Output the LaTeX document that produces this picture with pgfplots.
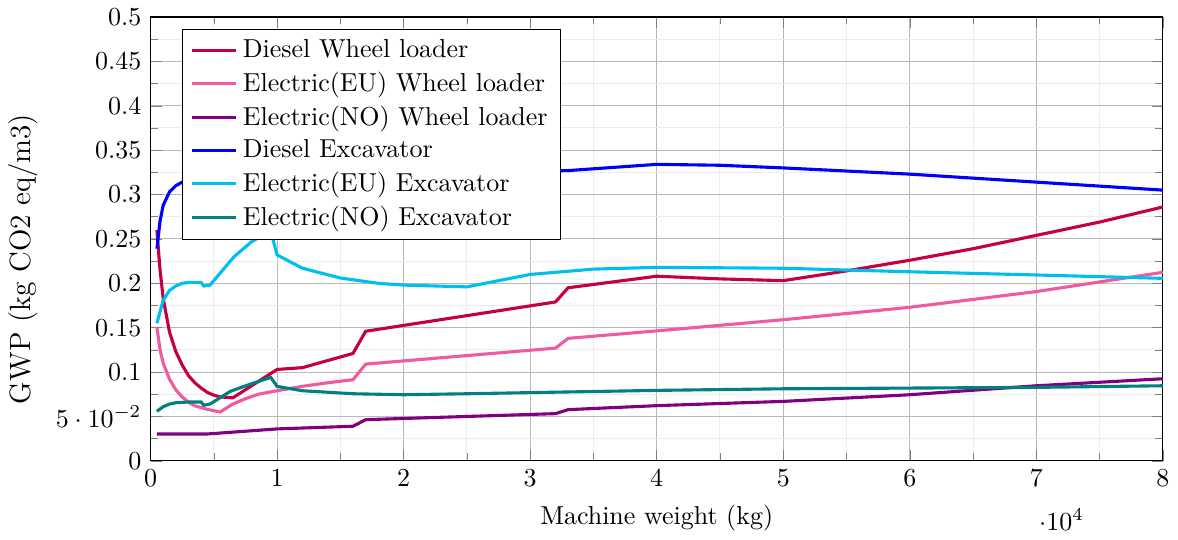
\documentclass[border=0pt]{standalone}
\usepackage{pgfplots}
\pgfplotsset{compat=1.18}
\definecolor{cDWL}{RGB}{196,0,66}
\definecolor{cEUWL}{RGB}{240,90,160}
\definecolor{cNOWL}{RGB}{128,0,128}
\definecolor{cDEX}{RGB}{0,0,255}
\definecolor{cEUEX}{RGB}{0,191,240}
\definecolor{cNOEX}{RGB}{0,128,128}
\begin{document}
\begin{tikzpicture}
\begin{axis}[
  scale only axis,
  width=390pt, height=171pt,
  xmin=0, xmax=80000, ymin=0, ymax=0.5,
  xtick={0,10000,20000,30000,40000,50000,60000,70000,80000},
  ytick={0,0.05,0.1,0.15,0.2,0.25,0.3,0.35,0.4,0.45,0.5},
  minor x tick num=1, minor y tick num=1,
  grid=both,
  major grid style={gray!55, line width=0.4pt},
  minor grid style={gray!15, line width=0.4pt},
  xlabel={Machine weight (kg)},
  ylabel={\fontsize{11.3}{13}\selectfont GWP (kg CO2 eq/m3)},
  ylabel style={at={(ticklabel cs:0.455)}},
  legend style={at={(0.031,0.973)}, anchor=north west, draw=black, fill=white, cells={anchor=west}},
  every axis plot/.append style={very thick},
]
\addplot[cDWL] coordinates {
(500,0.260)(750,0.215)(1000,0.183)(1500,0.145)(2000,0.123)(2500,0.108)(3000,0.096)(3500,0.088)(4000,0.082)(4500,0.077)(5000,0.074)(5500,0.072)(6500,0.071)
(10000,0.103)(12000,0.105)(14000,0.113)(16000,0.121)(17000,0.146)(32000,0.179)(33000,0.195)(40000,0.208)(45000,0.205)(50000,0.203)
(55000,0.214)(60000,0.226)(65000,0.239)(70000,0.254)(75000,0.269)(80000,0.286)};
\addlegendentry{Diesel Wheel loader}
\addplot[cEUWL] coordinates {
(500,0.151)(750,0.125)(1000,0.110)(1500,0.092)(2000,0.080)(2500,0.072)(3000,0.066)(3500,0.062)(4000,0.060)(4500,0.058)(5500,0.055)
(6500,0.064)(7500,0.070)(8500,0.075)(10000,0.079)(12000,0.084)(14000,0.088)(16000,0.0914)(17000,0.109)(32000,0.127)(33000,0.138)
(40000,0.1464)(50000,0.159)(60000,0.173)(70000,0.1907)(80000,0.2124)};
\addlegendentry{Electric(EU) Wheel loader}
\addplot[cNOWL] coordinates {
(500,0.0303)(4500,0.0303)(10000,0.036)(16000,0.039)(17000,0.0464)(32000,0.0532)(33000,0.0577)(40000,0.0622)(50000,0.067)
(60000,0.0745)(70000,0.0846)(80000,0.0925)};
\addlegendentry{Electric(NO) Wheel loader}
\addplot[cDEX] coordinates {
(500,0.239)(750,0.270)(1000,0.288)(1500,0.303)(2000,0.310)(2500,0.314)(3000,0.316)(5000,0.319)(10000,0.322)(20000,0.325)(30000,0.326)
(33000,0.327)(40000,0.334)(45000,0.333)(50000,0.330)(60000,0.323)(70000,0.314)(80000,0.305)};
\addlegendentry{Diesel Excavator}
\addplot[cEUEX] coordinates {
(500,0.155)(1000,0.181)(1500,0.192)(2000,0.197)(2500,0.200)(3000,0.201)(4000,0.2011)(4200,0.197)(4700,0.198)(6600,0.230)(8000,0.247)
(9000,0.255)(9500,0.259)(10000,0.232)(12000,0.217)(15000,0.206)(18000,0.200)(20000,0.198)(25000,0.196)(30000,0.210)(35000,0.216)
(40000,0.218)(50000,0.217)(60000,0.213)(70000,0.2094)(80000,0.2056)};
\addlegendentry{Electric(EU) Excavator}
\addplot[cNOEX] coordinates {
(500,0.0558)(1000,0.061)(1500,0.0640)(2000,0.0655)(3000,0.0663)(4000,0.0663)(4200,0.0626)(4700,0.064)(6300,0.0783)(7900,0.0865)
(9500,0.094)(10000,0.0839)(12000,0.079)(16000,0.0756)(20000,0.0745)(25000,0.0756)(40000,0.0794)(50000,0.0812)(60000,0.082)
(70000,0.0828)(80000,0.0846)};
\addlegendentry{Electric(NO) Excavator}
\end{axis}
\end{tikzpicture}
\end{document}
